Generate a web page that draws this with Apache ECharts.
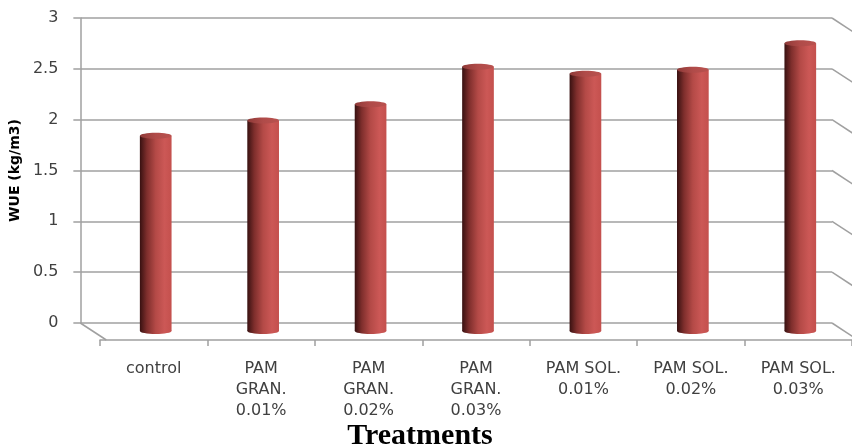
<!DOCTYPE html>
<html>
<head>
<meta charset="utf-8">
<script src="https://cdn.jsdelivr.net/npm/echarts@6/dist/echarts.min.js"></script>
<style>
  html, body { margin: 0; padding: 0; background: #fff; }
  #chart { width: 852px; height: 447px; }
</style>
</head>
<body>
<div id="chart"></div>
<script>
// Treatment names shown under the floor of the chart
const categories = [
  'control',
  'PAM\nGRAN.\n0.01%',
  'PAM\nGRAN.\n0.02%',
  'PAM\nGRAN.\n0.03%',
  'PAM SOL.\n0.01%',
  'PAM SOL.\n0.02%',
  'PAM SOL.\n0.03%'
];

// Water use efficiency per treatment (kg/m3)
const wueValues = [1.92, 2.07, 2.23, 2.60, 2.53, 2.57, 2.83];

// Value axis ticks on the back wall
const yTicks = [0, 0.5, 1, 1.5, 2, 2.5, 3];

const yTitle = 'WUE (kg/m3)';
const xTitle = 'Treatments';

// Oblique depth of the 3D box (wall -> front edge)
const DEPTH_X = 26, DEPTH_Y = 17;
const GRID_COLOR = '#a0a0a0';
const LABEL_FONT = 'DejaVu Sans';

const chart = echarts.init(document.getElementById('chart'), null, { renderer: 'canvas' });

// Cylinder body shading: dark on the left, warm red on the right
function bodyGradient() {
  return new echarts.graphic.LinearGradient(0, 0, 1, 0, [
    { offset: 0, color: '#381111' },
    { offset: 0.22, color: '#7e2e2c' },
    { offset: 0.5, color: '#b44a47' },
    { offset: 0.78, color: '#cc5856' },
    { offset: 1, color: '#c4504d' }
  ]);
}

function renderCylinder(params, api) {
  const idx = api.value(0);
  const val = api.value(1);
  const top = api.coord([idx, val]);
  const base = api.coord([idx, 0]);
  const w = api.size([1, 0])[0] * 0.295;
  const cx = top[0] + 2;
  const ry = 3;
  return {
    type: 'group',
    children: [
      {
        type: 'ellipse',
        shape: { cx: cx, cy: base[1], rx: w / 2, ry: ry },
        style: { fill: bodyGradient() }
      },
      {
        type: 'rect',
        shape: { x: cx - w / 2, y: top[1], width: w, height: base[1] - top[1] },
        style: { fill: bodyGradient() }
      },
      {
        type: 'ellipse',
        shape: { cx: cx, cy: top[1], rx: w / 2, ry: ry },
        style: {
          fill: new echarts.graphic.LinearGradient(0, 0, 1, 0, [
            { offset: 0, color: '#8f3a38' },
            { offset: 0.5, color: '#b04b49' },
            { offset: 1, color: '#b9524f' }
          ])
        }
      }
    ]
  };
}

// Side-wall and floor edges drawn from the back-wall gridlines
function renderDepthEdges(params, api) {
  const cs = params.coordSys;
  const v = api.value(0);
  const y = api.coord([0, v])[1];
  const right = cs.x + cs.width;
  const children = [{
    type: 'line',
    shape: { x1: right, y1: y, x2: right + DEPTH_X, y2: y + DEPTH_Y },
    style: { stroke: GRID_COLOR, lineWidth: 1.5 }
  }];
  if (v === 0) {
    children.push({
      type: 'line',
      shape: { x1: cs.x, y1: y, x2: cs.x + DEPTH_X, y2: y + DEPTH_Y },
      style: { stroke: GRID_COLOR, lineWidth: 1.5 }
    });
  }
  return { type: 'group', children: children };
}

const option = {
  backgroundColor: '#ffffff',
  animation: false,
  grid: [
    // back wall
    { left: 74, top: 18, width: 758, height: 305 },
    // cylinders, half way into the depth
    { left: 100, top: 26, width: 758, height: 305 },
    // front floor edge with the category labels
    { left: 100, top: 35, width: 758, height: 305 }
  ],
  xAxis: [
    { gridIndex: 0, type: 'category', data: categories, show: false },
    { gridIndex: 1, type: 'category', data: categories, show: false },
    {
      gridIndex: 2,
      type: 'category',
      data: categories,
      axisLine: { show: true, lineStyle: { color: GRID_COLOR, width: 1.5 } },
      axisTick: { show: true, length: 6, alignWithLabel: false, lineStyle: { color: GRID_COLOR, width: 1.5 } },
      axisLabel: {
        interval: 0,
        margin: 18,
        color: '#404040',
        fontFamily: LABEL_FONT,
        fontSize: 16,
        lineHeight: 21,
        align: 'center'
      }
    }
  ],
  yAxis: [
    {
      gridIndex: 0,
      type: 'value',
      min: 0,
      max: 3,
      interval: 0.5,
      axisLine: { show: true, lineStyle: { color: GRID_COLOR, width: 1.5 } },
      axisTick: { show: true, length: 7, lineStyle: { color: GRID_COLOR, width: 1.5 } },
      splitLine: { show: true, lineStyle: { color: GRID_COLOR, width: 1.5 } },
      axisLabel: {
        margin: 22,
        color: '#404040',
        fontFamily: LABEL_FONT,
        fontSize: 16
      },
      name: yTitle,
      nameLocation: 'middle',
      nameRotate: 90,
      nameGap: 49,
      nameTextStyle: {
        color: '#000000',
        fontFamily: LABEL_FONT,
        fontWeight: 'bold',
        fontSize: 14
      }
    },
    {
      gridIndex: 1, type: 'value', min: 0, max: 3, interval: 0.5,
      show: false, splitLine: { show: false }
    },
    {
      gridIndex: 2, type: 'value', min: 0, max: 3, interval: 0.5,
      show: false, splitLine: { show: false }
    }
  ],
  graphic: [
    {
      type: 'text',
      x: 420,
      y: 421,
      style: {
        text: xTitle,
        fill: '#000000',
        textAlign: 'center',
        textVerticalAlign: 'top',
        font: 'bold 30px "Liberation Serif", "Times New Roman", serif'
      }
    }
  ],
  series: [
    {
      type: 'custom',
      xAxisIndex: 0,
      yAxisIndex: 0,
      silent: true,
      renderItem: renderDepthEdges,
      data: yTicks.map(function (v) { return [v]; }),
      encode: { y: 0 },
      z: 1
    },
    {
      type: 'custom',
      xAxisIndex: 1,
      yAxisIndex: 1,
      renderItem: renderCylinder,
      data: wueValues.map(function (v, i) { return [i, v]; }),
      encode: { x: 0, y: 1 },
      z: 5
    }
  ]
};

chart.setOption(option);
</script>
</body>
</html>
